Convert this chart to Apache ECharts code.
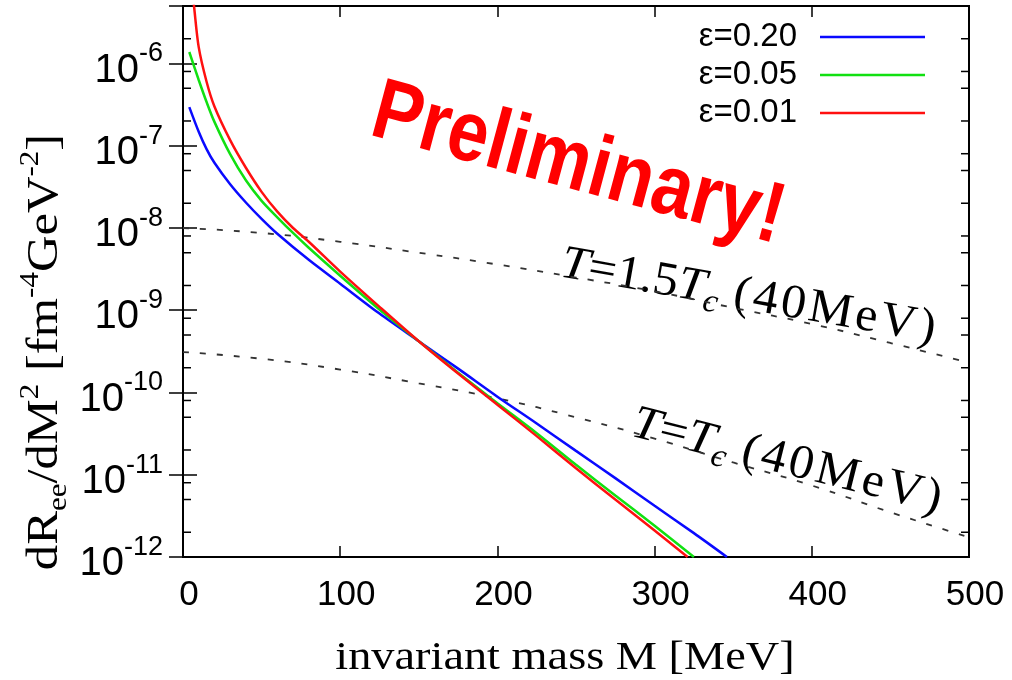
<!DOCTYPE html>
<html>
<head>
<meta charset="utf-8">
<script src="https://cdn.jsdelivr.net/npm/echarts@6/dist/echarts.min.js"></script>
<style>
  html, body { margin: 0; padding: 0; background: #fff; }
  #chart { width: 1012px; height: 680px; }
</style>
</head>
<body>
<div id="chart"></div>
<script>
// invariant mass M [MeV] and dR/dM^2 for each epsilon
const massBlue = [4, 10, 15, 20, 30, 40, 50, 60, 80, 100, 125, 150, 175, 200, 225, 250, 275, 300, 325, 346];
const rateBlue = [2.95e-7, 1.48e-7, 9.1e-8, 6.2e-8, 3.4e-8, 2.04e-8, 1.29e-8, 8.5e-9, 4.1e-9, 2.1e-9,
  9.1e-10, 4.2e-10, 1.95e-10, 8.9e-11, 4.2e-11, 1.95e-11, 9.1e-12, 4.2e-12, 1.95e-12, 1.0e-12];

const massGreen = [4, 10, 15, 20, 30, 40, 50, 60, 70, 80, 100, 125, 150, 175, 200, 225, 250, 275, 300, 325];
const rateGreen = [1.38e-6, 6.3e-7, 3.4e-7, 1.95e-7, 7.9e-8, 3.8e-8, 2.14e-8, 1.35e-8, 8.7e-9, 5.75e-9,
  2.63e-9, 1.02e-9, 4.2e-10, 1.74e-10, 7.4e-11, 3.2e-11, 1.32e-11, 5.6e-12, 2.4e-12, 1.0e-12];

const massRed = [4, 7, 10, 15, 20, 30, 40, 50, 60, 70, 80, 100, 125, 150, 175, 200, 225, 250, 275, 300, 321];
const rateRed = [1.6e-5, 5.0e-6, 1.58e-6, 6.0e-7, 3.0e-7, 1.17e-7, 5.4e-8, 2.75e-8, 1.58e-8, 1.0e-8, 6.8e-9,
  2.95e-9, 1.1e-9, 4.2e-10, 1.7e-10, 7.1e-11, 2.95e-11, 1.2e-11, 5.0e-12, 2.1e-12, 1.0e-12];

// reference curves (dashed)
const massTemp = [0, 50, 100, 150, 200, 250, 300, 350, 400, 450, 500];
const rateHot = [1.0e-8, 8.7e-9, 6.8e-9, 5.0e-9, 3.6e-9, 2.5e-9, 1.7e-9, 1.07e-9, 6.8e-10, 4.0e-10, 2.3e-10];
const rateCrit = [3.1e-10, 2.57e-10, 1.9e-10, 1.29e-10, 8.5e-11, 5.0e-11, 2.75e-11, 1.41e-11, 7.4e-12, 3.5e-12, 1.74e-12];

const seriesNames = ['ε=0.20', 'ε=0.05', 'ε=0.01'];
const minorTicks = [2e-12, 5e-12, 8e-12, 2e-11, 5e-11, 8e-11, 2e-10, 5e-10, 8e-10, 2e-9, 5e-9, 8e-9,
  2e-8, 5e-8, 8e-8, 2e-7, 5e-7, 8e-7, 2e-6];

const xMin = 0, xMax = 500, xStep = 100;
const yMin = 1e-12, yMax = 5e-6;

// where the curve labels start: [mass, rate]
const hotLabelAt = [239, 2.5e-9];
const critLabelAt = [284, 2.9e-11];

const pairs = (xs, ys) => xs.map((x, i) => [x, ys[i]]);

const sans = 'Liberation Sans';
const serif = 'Liberation Serif';

const chart = echarts.init(document.getElementById('chart'));

const tickStyle = { color: '#000', width: 1.5 };

const option = {
  animation: false,
  backgroundColor: '#fff',
  grid: { left: 183, right: 43, top: 6, bottom: 123, show: true, borderColor: '#000', borderWidth: 2 },
  legend: {
    data: seriesNames,
    orient: 'vertical',
    right: 87,
    top: 19,
    padding: 0,
    align: 'right',
    icon: 'rect',
    itemWidth: 105,
    itemHeight: 2.5,
    itemGap: 2,
    textStyle: { fontFamily: sans, fontSize: 33, color: '#000', lineHeight: 36, padding: [0, 18, 0, 0] }
  },
  xAxis: [{
    type: 'value', min: xMin, max: xMax, interval: xStep,
    axisLine: { show: false },
    axisTick: { inside: true, length: 11, lineStyle: tickStyle },
    splitLine: { show: false },
    axisLabel: { fontFamily: sans, fontSize: 35, color: '#000', margin: 21, padding: [0, 0, 0, 12] }
  }, {
    type: 'value', min: xMin, max: xMax, interval: xStep, position: 'top',
    axisLine: { show: false },
    axisTick: { inside: true, length: 11, lineStyle: tickStyle },
    splitLine: { show: false },
    axisLabel: { show: false }
  }],
  yAxis: [{
    type: 'log', logBase: 10, min: yMin, max: yMax,
    axisLine: { show: false },
    axisTick: { inside: true, length: 14, lineStyle: tickStyle },
    splitLine: { show: false },
    axisLabel: {
      margin: 20,
      fontFamily: sans,
      fontSize: 40,
      color: '#000',
      padding: [4, 0, 0, 0],
      showMaxLabel: false,
      formatter: v => '{base|10}{sup|' + Math.round(Math.log10(v)) + '}',
      rich: {
        base: { fontFamily: sans, fontSize: 40, lineHeight: 50, verticalAlign: 'bottom', color: '#000' },
        sup: { fontFamily: sans, fontSize: 27, lineHeight: 27, verticalAlign: 'top', color: '#000' }
      }
    }
  }, {
    type: 'log', logBase: 10, min: yMin, max: yMax, position: 'right',
    axisLine: { show: false },
    axisTick: { inside: true, length: 14, lineStyle: tickStyle },
    splitLine: { show: false },
    axisLabel: { show: false }
  }],
  series: [
    {
      name: 'T=1.5Tc', type: 'line', data: pairs(massTemp, rateHot), smooth: true,
      symbol: 'none', lineStyle: { color: '#333', width: 1.8, type: [6, 11] }
    },
    {
      name: 'T=Tc', type: 'line', data: pairs(massTemp, rateCrit), smooth: true,
      symbol: 'none', lineStyle: { color: '#333', width: 1.8, type: [6, 11] }
    },
    {
      name: seriesNames[0], type: 'line', data: pairs(massBlue, rateBlue), smooth: 0.3,
      symbol: 'none', color: '#0a0aff', lineStyle: { width: 2.5 }
    },
    {
      name: seriesNames[1], type: 'line', data: pairs(massGreen, rateGreen), smooth: 0.3,
      symbol: 'none', color: '#11e011', lineStyle: { width: 2.5 }
    },
    {
      name: seriesNames[2], type: 'line', data: pairs(massRed, rateRed), smooth: 0.3,
      symbol: 'none', color: '#ff1010', lineStyle: { width: 2.5 }
    },
    {
      // minor ticks at 2, 5, 8 x 10^n on both vertical borders
      type: 'custom', silent: true,
      data: minorTicks.map(v => [xMin, v]),
      renderItem: (params, api) => {
        const l = api.coord([xMin, api.value(1)]);
        const r = api.coord([xMax, api.value(1)]);
        const st = { stroke: '#000', lineWidth: 1.5 };
        return {
          type: 'group', children: [
            { type: 'line', shape: { x1: l[0], y1: l[1], x2: l[0] + 8, y2: l[1] }, style: st },
            { type: 'line', shape: { x1: r[0] - 8, y1: r[1], x2: r[0], y2: r[1] }, style: st }
          ]
        };
      }
    }
  ]
};

chart.setOption(option);

// texts along the dashed curves
const curveRich = {
  it: { fontFamily: serif, fontStyle: 'italic', fontSize: 48, lineHeight: 48, verticalAlign: 'top', fill: '#000' },
  r: { fontFamily: serif, fontSize: 48, lineHeight: 48, verticalAlign: 'top', fill: '#000' },
  sp: { fontFamily: serif, fontSize: 48, lineHeight: 48, verticalAlign: 'top', fill: '#000', padding: [0, 1.5, 0, 1.5] },
  sub: { fontFamily: serif, fontStyle: 'italic', fontSize: 33, lineHeight: 53, verticalAlign: 'bottom', fill: '#000' }
};
const unitText = '{r| }{sp|(}{sp|4}{sp|0}{sp|M}{sp|e}{sp|V}{sp|)}';

function curveLabel(text, at, deg) {
  const p = chart.convertToPixel({ xAxisIndex: 0, yAxisIndex: 0 }, at);
  return {
    type: 'text', x: p[0], y: p[1], rotation: -deg * Math.PI / 180, scaleX: 1.04, silent: true,
    style: { text: text, x: 0, y: -38, align: 'left', verticalAlign: 'top', rich: curveRich }
  };
}

chart.setOption({
  graphic: [
    curveLabel('{it|T}{r|=1.5}{it|T}{sub|c}' + unitText, hotLabelAt, 10),
    curveLabel('{it|T}{r|=}{it|T}{sub|c}' + unitText, critLabelAt, 14),
    {
      type: 'text', x: 578, y: 166, rotation: -15 * Math.PI / 180, scaleX: 0.85, silent: true,
      style: {
        text: 'Preliminary!', fill: '#ff0000', font: 'bold 86px "Liberation Sans"',
        align: 'center', verticalAlign: 'middle'
      }
    },
    {
      type: 'text', x: 565, y: 658, scaleX: 1.13, silent: true,
      style: {
        text: 'invariant mass M [MeV]', fill: '#000', font: '41px "Liberation Serif"',
        align: 'center', verticalAlign: 'middle'
      }
    },
    {
      type: 'text', x: 45, y: 352, rotation: Math.PI / 2, scaleX: 1.15, silent: true,
      style: {
        text: '{m|dR}{sub|ee}{m|/dM}{sup|2}{m| [fm}{sup|-4}{m|GeV}{sup|-2}{m|]}',
        x: 0, y: 0,
        align: 'center', verticalAlign: 'middle',
        rich: {
          m: { fontFamily: serif, fontSize: 44, lineHeight: 55, verticalAlign: 'middle', fill: '#000' },
          sup: { fontFamily: serif, fontSize: 27, lineHeight: 27, verticalAlign: 'top', fill: '#000' },
          sub: { fontFamily: serif, fontSize: 27, lineHeight: 27, verticalAlign: 'bottom', fill: '#000' }
        }
      }
    }
  ]
});
</script>
</body>
</html>
